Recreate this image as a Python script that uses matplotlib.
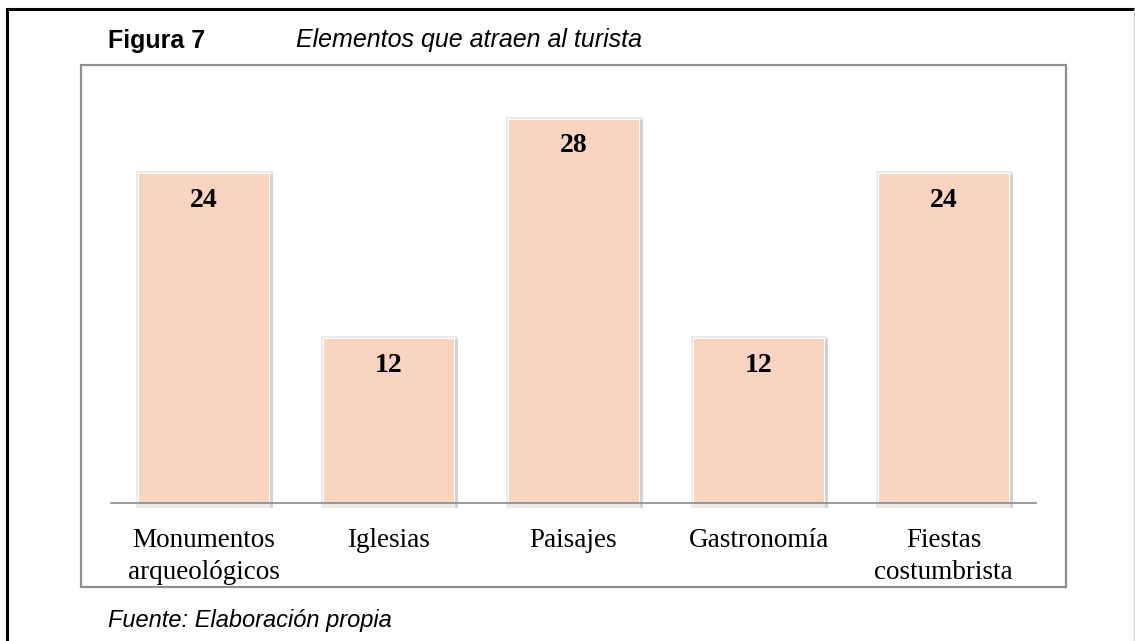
import matplotlib
matplotlib.use("Agg")
import matplotlib.pyplot as plt
from matplotlib.lines import Line2D
from matplotlib.patches import Rectangle

# data
categories = ["Monumentos\narqueológicos", "Iglesias", "Paisajes",
              "Gastronomía", "Fiestas\ncostumbrista"]
values = [24, 12, 28, 12, 24]

fig_title = "Figura 7"
chart_title = "Elementos que atraen al turista"
source_note = "Fuente: Elaboración propia"

W, H = 1135, 641
fig = plt.figure(figsize=(W / 100, H / 100), dpi=100)


def fx(px):
    return px / W


def fy(py):
    return 1 - py / H


# outer page frame (black on top/left, faint on the right)
fig.add_artist(Line2D([fx(7), fx(1134)], [fy(9), fy(9)], color="black", lw=2.2))
fig.add_artist(Line2D([fx(7), fx(7)], [fy(9), fy(641)], color="black", lw=2.2))
fig.add_artist(Line2D([fx(1134), fx(1134)], [fy(9), fy(641)], color="#d0d0d0", lw=1.0))

# chart box
fig.add_artist(Rectangle((fx(81), fy(587)), fx(1066) - fx(81), fy(65) - fy(587),
                         fill=False, edgecolor="#8f8f8f", lw=1.6))

# plot area: x 111..1036, axis line at 503, 13.73 px per unit
ymax = 30
ax = fig.add_axes([fx(111), fy(503), fx(1036) - fx(111), 503 / H - (503 - ymax * 13.73) / H])
ax.set_xlim(-0.5, len(categories) - 0.5)
ax.set_ylim(0, ymax)
ax.patch.set_alpha(0)

x = list(range(len(categories)))
bw = 0.708
px_x = 1 / 185
px_y = 1 / 13.73
# soft shadow behind the bars: faint glow + darker strip on the right
ax.bar([i + px_x for i in x], [v + 7 * px_y for v in values], width=bw + 6 * px_x,
       bottom=-5 * px_y, color="#ebebeb", zorder=1, clip_on=False)
ax.bar([i + bw / 2 + 2.5 * px_x for i in x], [v + 4 * px_y for v in values],
       width=2.5 * px_x, bottom=-5 * px_y, color="#d2d2d2", zorder=1, clip_on=False)
ax.bar(x, values, width=bw, color="#F9D4C1", edgecolor="white", linewidth=0.7,
       zorder=2)

for i, v in zip(x, values):
    ax.annotate(str(v), (i, v), xytext=(0, -27), textcoords="offset pixels",
                ha="center", va="center", fontsize=20, fontweight="bold",
                family="Liberation Serif", zorder=3)

for s in ["left", "right", "top"]:
    ax.spines[s].set_visible(False)
ax.spines["bottom"].set_color("#8a8a8a")
ax.spines["bottom"].set_linewidth(1.2)
ax.spines["bottom"].set_zorder(4)
ax.set_yticks([])
ax.set_xticks(x)
ax.set_xticklabels(categories, family="Liberation Serif", fontsize=19.5,
                   linespacing=1.38)
ax.tick_params(axis="x", length=0, pad=18)

fig.text(fx(108), fy(41), fig_title, family="Liberation Sans", fontsize=18,
         fontweight="bold", va="center", ha="left")
fig.text(fx(296), fy(40), chart_title, family="Liberation Sans", fontsize=18,
         style="italic", va="center", ha="left")
fig.text(fx(108), fy(621), source_note, family="Liberation Sans", fontsize=17,
         style="italic", va="center", ha="left")

fig.savefig("out.png", dpi=100)
